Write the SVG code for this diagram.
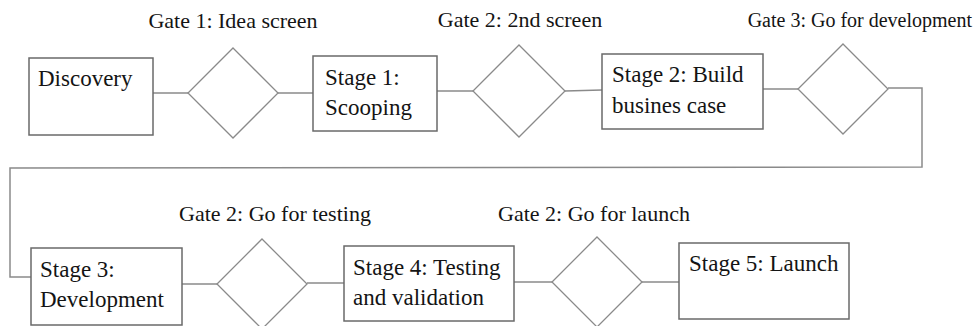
<svg xmlns="http://www.w3.org/2000/svg" width="978" height="326" viewBox="0 0 978 326">
<style>
.box{fill:#fff;stroke:#6a6a6a;stroke-width:1.5}
.gate{fill:#fff;stroke:#8a8a8a;stroke-width:1.3}
.conn{fill:none;stroke:#8a8a8a;stroke-width:1.5}
.t{font-family:"Liberation Serif","Times New Roman",serif;font-size:23px;fill:#141414}
.g{font-family:"Liberation Serif","Times New Roman",serif;font-size:22px;fill:#141414}
</style>
<rect width="978" height="326" fill="#fff"/>
<g id="connectors">
<line class="conn" x1="153" y1="93" x2="188" y2="93"/>
<line class="conn" x1="278" y1="93" x2="313" y2="93"/>
<line class="conn" x1="437" y1="91" x2="473" y2="91"/>
<line class="conn" x1="565" y1="91" x2="602" y2="90"/>
<line class="conn" x1="763" y1="89" x2="798" y2="89"/>
<polyline class="conn" points="888,88 922,88 922,167 10,168 10,277 31,277"/>
<line class="conn" x1="182" y1="284" x2="218" y2="284"/>
<line class="conn" x1="307" y1="283" x2="344" y2="283"/>
<line class="conn" x1="514" y1="282" x2="552" y2="282"/>
<line class="conn" x1="642" y1="282" x2="679" y2="282"/>
</g>
<g id="discovery"><rect class="box" x="29" y="58" width="124" height="77"/><text class="t" x="38" y="86">Discovery</text></g>
<g id="gate1"><polygon class="gate" points="233,48 278,93 233,138 188,93"/><text class="g" x="233" y="28" text-anchor="middle">Gate 1: Idea screen</text></g>
<g id="stage1"><rect class="box" x="313" y="56" width="124" height="75"/><text class="t" x="325" y="85">Stage 1:</text><text class="t" x="325" y="115">Scooping</text></g>
<g id="gate2"><polygon class="gate" points="519,45 565,91 519,137 473,91"/><text class="g" x="520" y="27" text-anchor="middle">Gate 2: 2nd screen</text></g>
<g id="stage2"><rect class="box" x="602" y="54" width="161" height="75"/><text class="t" x="612" y="82">Stage 2: Build</text><text class="t" x="612" y="113">busines case</text></g>
<g id="gate3"><polygon class="gate" points="843,44 888,89 843,134 798,89"/><text class="g" x="972" y="27" text-anchor="end" style="font-size:20px">Gate 3: Go for development</text></g>
<g id="stage3"><rect class="box" x="31" y="248" width="151" height="77"/><text class="t" x="40" y="277">Stage 3:</text><text class="t" x="40" y="307">Development</text></g>
<g id="gate4"><polygon class="gate" points="262,239 307,284 262,329 217,284"/><text class="g" x="275" y="221" text-anchor="middle">Gate 2: Go for testing</text></g>
<g id="stage4"><rect class="box" x="344" y="246" width="170" height="75"/><text class="t" x="353" y="275">Stage 4: Testing</text><text class="t" x="353" y="305">and validation</text></g>
<g id="gate5"><polygon class="gate" points="597,237 642,282 597,327 552,282"/><text class="g" x="594" y="221" text-anchor="middle">Gate 2: Go for launch</text></g>
<g id="stage5"><rect class="box" x="679" y="243" width="170" height="76"/><text class="t" x="689" y="271">Stage 5: Launch</text></g>
</svg>
